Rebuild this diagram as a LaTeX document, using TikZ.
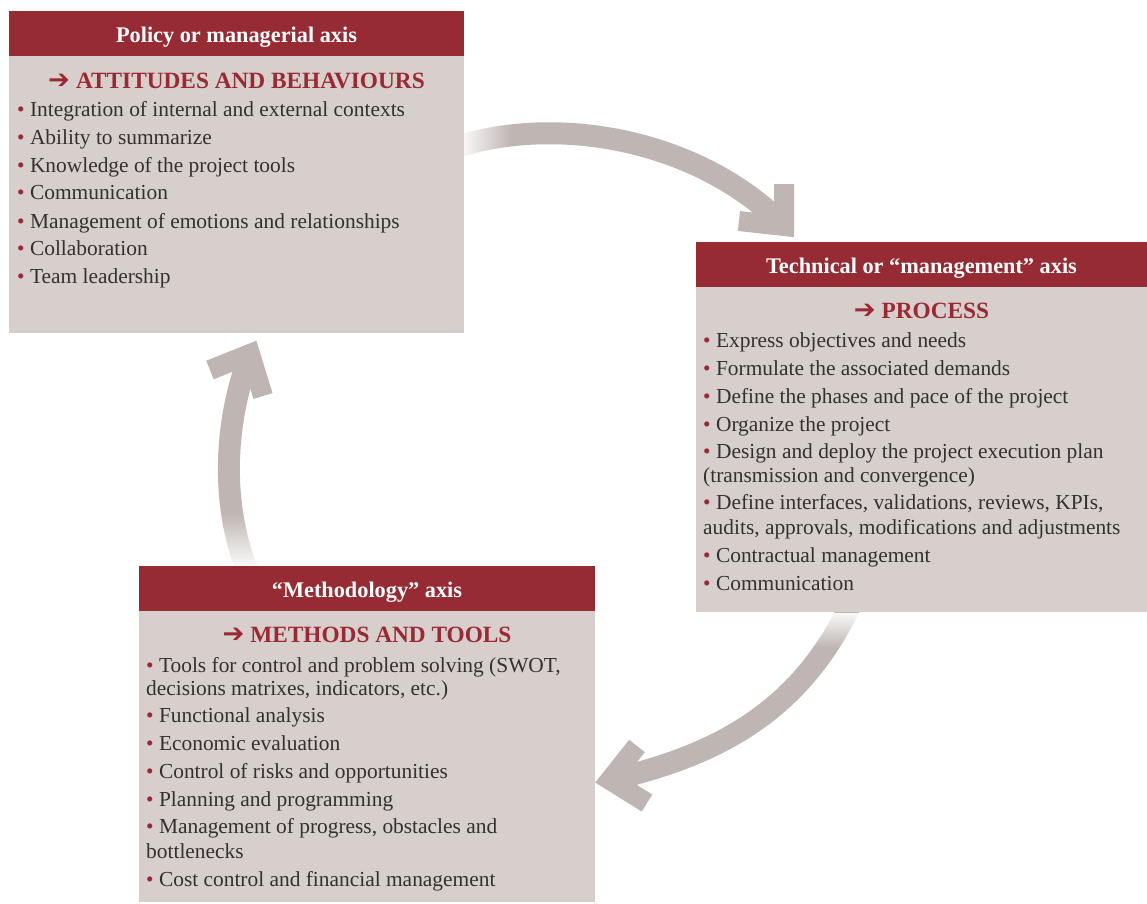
\documentclass[tikz,border=0pt]{standalone}
\usepackage{fontspec}
\setmainfont{Liberation Serif}
\newfontfamily\symfont{DejaVu Sans}
\usetikzlibrary{fadings}

\definecolor{hdrred}{RGB}{150,43,51}
\definecolor{bodygray}{RGB}{215,207,204}
\definecolor{arrowgray}{RGB}{191,181,178}
\definecolor{accent}{RGB}{155,40,50}
\definecolor{ink}{RGB}{52,48,48}

% white wipes that soften the tails of the cycle arrows
\tikzfading[name=wipe right, left color=transparent!8, right color=transparent!100]
\tikzfading[name=wipe up, bottom color=transparent!8, top color=transparent!100]
\tikzfading[name=wipe down, top color=transparent!8, bottom color=transparent!100]

\newcommand\bul{{\color{accent}•}\ }
\newcommand\hdarrow{{\symfont\fontsize{26}{26}\selectfont ➔}\hspace{6pt}}

\tikzset{
  shaft/.style={draw=arrowgray, line width=22pt, line cap=butt},
  chevron/.style={draw=arrowgray, line width=20pt, line join=miter, line cap=butt},
  bodybox/.style={fill=bodygray, draw=none, inner sep=0pt, anchor=north west},
  hdrbox/.style={fill=hdrred, draw=none, inner sep=0pt, anchor=south west, minimum height=45pt},
  hdrtext/.style={anchor=base, inner sep=0pt, text=white, font=\fontsize{22.3}{22.3}\selectfont\bfseries},
  heading/.style={anchor=base, inner sep=0pt, text=accent, font=\fontsize{23.3}{23.3}\selectfont\bfseries},
  item/.style={anchor=base west, inner sep=0pt, text=ink, font=\fontsize{21.4}{21.4}\selectfont},
}

\begin{document}
\begin{tikzpicture}[x=1pt, y=-1pt]
\useasboundingbox (0,0) rectangle (1147,903);

% ---- arrow from the policy axis to the technical axis
\coordinate (a1s) at (460,146);
\coordinate (a1c) at (784,226);
\coordinate (a1l) at (739,221);
\coordinate (a1r) at (784,184);
\draw[shaft] (a1s) .. controls (560,115) and (700,140) .. (a1c);
\draw[chevron] (a1l) -- (a1c) -- (a1r);
\fill[white, path fading=wipe right] (463,110) rectangle (512,178);

% ---- arrow from the technical axis to the methodology axis
\coordinate (a3s) at (850,606);
\coordinate (a3c) at (610,780);
\coordinate (a3u) at (637,746);
\coordinate (a3d) at (647,803);
\draw[shaft] (a3s) .. controls (800,710) and (720,755) .. (a3c);
\draw[chevron] (a3u) -- (a3c) -- (a3d);
\fill[white, path fading=wipe down] (800,612.5) rectangle (885,648);

% ---- arrow from the methodology axis back to the policy axis
\coordinate (a2s) at (247,570);
\coordinate (a2c) at (250,354);
\coordinate (a2l) at (210,370);
\coordinate (a2r) at (263,396);
\draw[shaft] (a2s) .. controls (220,500) and (225,420) .. (a2c);
\draw[chevron] (a2l) -- (a2c) -- (a2r);
\fill[white, path fading=wipe up] (205,512) rectangle (285,565.5);

% ---- policy or managerial axis
\node[bodybox, minimum width=455pt, minimum height=277pt] (b1) at (9,56) {};
\node[hdrbox, minimum width=455pt] (h1) at (9,56) {};
\node[hdrtext] (h1t) at (236.5,42) {Policy or managerial axis};
\node[heading] (k1) at (236.5,88) {\hdarrow ATTITUDES AND BEHAVIOURS};
\node[item] (p1) at (17,116) {\bul Integration of internal and external contexts};
\node[item] (p2) at (17,144) {\bul Ability to summarize};
\node[item] (p3) at (17,172) {\bul Knowledge of the project tools};
\node[item] (p4) at (17,199) {\bul Communication};
\node[item] (p5) at (17,228) {\bul Management of emotions and relationships};
\node[item] (p6) at (17,255) {\bul Collaboration};
\node[item] (p7) at (17,283) {\bul Team leadership};

% ---- technical or management axis
\node[bodybox, minimum width=451pt, minimum height=325pt] (b2) at (696,287) {};
\node[hdrbox, minimum width=451pt] (h2) at (696,287) {};
\node[hdrtext] (h2t) at (921.5,273) {Technical or “management” axis};
\node[heading] (k2) at (921.5,318) {\hdarrow PROCESS};
\node[item] (t1) at (703,347) {\bul Express objectives and needs};
\node[item] (t2) at (703,375) {\bul Formulate the associated demands};
\node[item] (t3) at (703,403) {\bul Define the phases and pace of the project};
\node[item] (t4) at (703,431) {\bul Organize the project};
\node[item] (t5) at (703,458) {\bul Design and deploy the project execution plan};
\node[item] (t5b) at (703,482) {(transmission and convergence)};
\node[item] (t6) at (703,509) {\bul Define interfaces, validations, reviews, KPIs,};
\node[item] (t6b) at (703,534) {audits, approvals, modifications and adjustments};
\node[item] (t7) at (703,562) {\bul Contractual management};
\node[item] (t8) at (703,590) {\bul Communication};

% ---- methodology axis
\node[bodybox, minimum width=456pt, minimum height=291pt] (b3) at (139,611) {};
\node[hdrbox, minimum width=456pt] (h3) at (139,611) {};
\node[hdrtext] (h3t) at (367,597) {“Methodology” axis};
\node[heading] (k3) at (367,642) {\hdarrow METHODS AND TOOLS};
\node[item] (m1) at (146,672) {\bul Tools for control and problem solving (SWOT,};
\node[item] (m1b) at (146,695) {decisions matrixes, indicators, etc.)};
\node[item] (m2) at (146,722) {\bul Functional analysis};
\node[item] (m3) at (146,750) {\bul Economic evaluation};
\node[item] (m4) at (146,778) {\bul Control of risks and opportunities};
\node[item] (m5) at (146,806) {\bul Planning and programming};
\node[item] (m6) at (146,833) {\bul Management of progress, obstacles and};
\node[item] (m6b) at (146,858) {bottlenecks};
\node[item] (m7) at (146,886) {\bul Cost control and financial management};
\end{tikzpicture}
\end{document}
